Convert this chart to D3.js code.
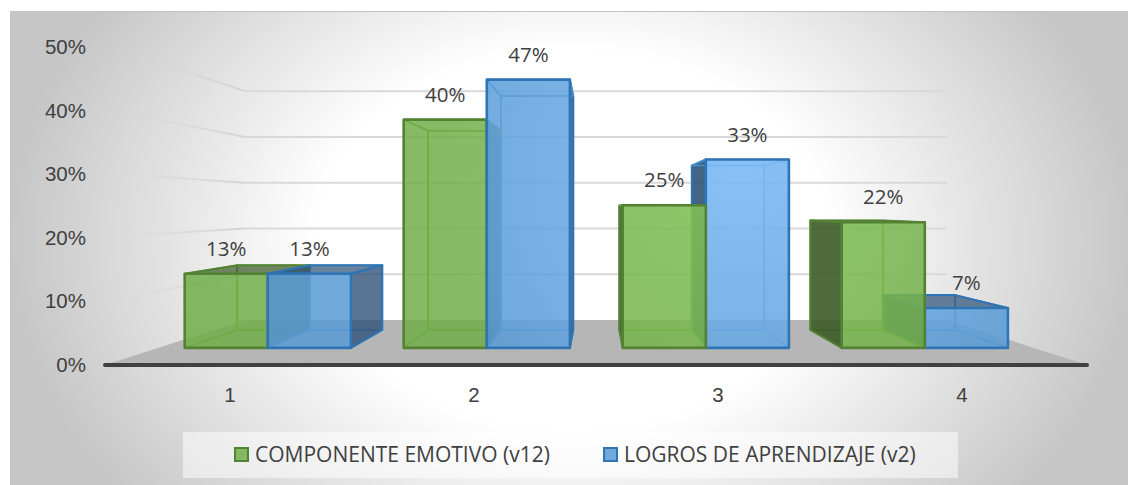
<!DOCTYPE html>
<meta charset="utf-8">
<style type="text/css">
body {
  margin: 0;
  background: #fff;
  font-family: "Open Sans", sans-serif;
}

svg {
  display: block;
}

.axis text,
.bar-label,
.legend text {
  fill: #404040;
}

.axis text,
.bar-label {
  font-size: 20.5px;
}

.legend text {
  font-size: 21px;
}

.axis line {
  display: none;
}

.axis path {
  display: none;
}

.grid {
  fill: none;
  stroke-width: 2px;
}
</style>
<body>
<script src="https://d3js.org/d3.v7.min.js"></script>
<script>
var categories = ["1", "2", "3", "4"];
var seriesNames = ["COMPONENTE EMOTIVO (v12)", "LOGROS DE APRENDIZAJE (v2)"];
var emotivo = [13, 40, 25, 22];
var logros = [13, 47, 33, 7];
var yTicks = [0, 10, 20, 30, 40, 50];

var width = 1128;
var height = 485;

// perspective: everything shrinks towards this point
var vp = { x: 596, y: 207 };
var depth = { floorBack: 0.715, barBack: 0.778, barFront: 0.892 };

var x = d3.scaleBand()
  .domain(categories)
  .range([105, 1087]);

// the tick labels are spaced a bit tighter than the bars
var xLabels = x.copy().range([108, 1084]);

var xSeries = d3.scaleBand()
  .domain([0, 1])
  .range([x.bandwidth() * 0.122, x.bandwidth() * 0.881]);

var y = d3.scaleLinear()
  .domain([0, 50])
  .range([365, 45]);

var yLabels = y.copy().range([365, 47]);

function project(wx, wy, s) {
  return [vp.x + (wx - vp.x) * s, vp.y + (wy - vp.y) * s];
}

function poly(points) {
  return "M" + points.map(function(p) { return p[0].toFixed(1) + "," + p[1].toFixed(1); }).join("L") + "Z";
}

var styles = [
  { front: "url(#greenFront)", stroke: "#548235", inner: "#64a53c", outer: "#3c5a28" },
  { front: "url(#blueFront)", stroke: "#2e75b6", inner: "#4a90d0", outer: "#2f5378" }
];

var svg = d3.select("body")
  .append("svg")
    .attr("width", width)
    .attr("height", height);

var defs = svg.append("defs");

var bgGrad = defs.append("radialGradient")
  .attr("id", "bg")
  .attr("gradientUnits", "userSpaceOnUse")
  .attr("cx", 0)
  .attr("cy", 0)
  .attr("r", 1)
  .attr("gradientTransform", "translate(572,240) scale(565,420)");
bgGrad.append("stop").attr("offset", 0.45).attr("stop-color", "#ffffff");
bgGrad.append("stop").attr("offset", 1).attr("stop-color", "#c6c6c6");

// bars catch more light around the third group
function frontGradient(id, stops) {
  var g = defs.append("radialGradient")
    .attr("id", id)
    .attr("gradientUnits", "userSpaceOnUse")
    .attr("cx", 740)
    .attr("cy", 170)
    .attr("r", 300);
  stops.forEach(function(s, i) {
    g.append("stop").attr("offset", i).attr("stop-color", s[0]).attr("stop-opacity", s[1]);
  });
}
frontGradient("greenFront", [["#83c25a", 0.9], ["#70ad47", 0.84]]);
frontGradient("blueFront", [["#7fbcf6", 0.92], ["#5b9bd5", 0.86]]);

var wallFade = defs.append("linearGradient")
  .attr("id", "wallFade")
  .attr("gradientUnits", "userSpaceOnUse")
  .attr("x1", x.range()[0]).attr("y1", 0)
  .attr("x2", project(x.range()[0], y(0), depth.floorBack)[0]).attr("y2", 0);
wallFade.append("stop").attr("offset", 0).attr("stop-color", "#d4d4d4").attr("stop-opacity", 0);
wallFade.append("stop").attr("offset", 1).attr("stop-color", "#d4d4d4").attr("stop-opacity", 1);

// panel
svg.append("rect")
  .attr("x", 10.5)
  .attr("y", 11.5)
  .attr("width", width)
  .attr("height", height)
  .attr("fill", "url(#bg)")
  .attr("stroke", "#c4c4c4");

// floor
svg.append("path")
  .attr("d", poly([
    project(x.range()[0], y(0), 1),
    project(x.range()[1], y(0), 1),
    project(x.range()[1], y(0), depth.floorBack),
    project(x.range()[0], y(0), depth.floorBack)
  ]))
  .attr("fill", "#b6b6b6");

// gridlines, fading out along the left wall
svg.selectAll("path.grid.wall")
  .data(yTicks.slice(1))
  .enter().append("path")
    .attr("class", "grid wall")
    .style("stroke", "url(#wallFade)")
    .attr("d", function(d) {
      var a = project(x.range()[0], y(d), 1);
      var b = project(x.range()[0], y(d), depth.floorBack);
      return "M" + a + "L" + b;
    });

svg.selectAll("path.grid.back")
  .data(yTicks.slice(1))
  .enter().append("path")
    .attr("class", "grid back")
    .style("stroke", "#d9d9d9")
    .attr("d", function(d) {
      var b = project(x.range()[0], y(d), depth.floorBack);
      var c = project(x.range()[1], y(d), depth.floorBack);
      return "M" + b + "L" + c;
    });

var bars = [];
categories.forEach(function(c, i) {
  [emotivo, logros].forEach(function(values, k) {
    var x0 = x(c) + xSeries(k);
    bars.push({ cat: c, k: k, value: values[i], x0: x0, x1: x0 + xSeries.bandwidth() });
  });
});

// the bar furthest from the vanishing point goes down first
var order = bars.slice().sort(function(a, b) {
  return Math.abs((b.x0 + b.x1) / 2 - vp.x) - Math.abs((a.x0 + a.x1) / 2 - vp.x);
});

var fr = depth.barFront, bk = depth.barBack;

function barFaces(d) {
  var st = styles[d.k];
  var top = y(d.value), base = y(0);
  var faces = [];
  function face(pts, fill, opacity, stroke, sw) {
    faces.push({ d: poly(pts), fill: fill, opacity: opacity, stroke: stroke, sw: sw });
  }
  // back wall and floor of the box, seen from the inside
  face([project(d.x0, base, bk), project(d.x1, base, bk), project(d.x1, top, bk), project(d.x0, top, bk)], "none", 1, st.inner, 1.5);
  face([project(d.x0, base, fr), project(d.x1, base, fr), project(d.x1, base, bk), project(d.x0, base, bk)], "none", 1, st.inner, 1.5);
  var left = [project(d.x0, base, fr), project(d.x0, top, fr), project(d.x0, top, bk), project(d.x0, base, bk)];
  var right = [project(d.x1, base, fr), project(d.x1, top, fr), project(d.x1, top, bk), project(d.x1, base, bk)];
  var lid = [project(d.x0, top, fr), project(d.x1, top, fr), project(d.x1, top, bk), project(d.x0, top, bk)];
  if (d.x0 > vp.x) face(left, st.outer, 0.9, st.stroke, 2);
  else face(left, "none", 1, st.inner, 1.5);
  if (d.x1 < vp.x) face(right, st.outer, 0.8, st.stroke, 2);
  else face(right, "none", 1, st.inner, 1.5);
  if (top > vp.y) face(lid, st.outer, 0.72, st.stroke, 2);
  else face(lid, "none", 1, st.inner, 1.5);
  face([project(d.x0, base, fr), project(d.x1, base, fr), project(d.x1, top, fr), project(d.x0, top, fr)], st.front, 1, st.stroke, 2.6);
  return faces;
}

var group = svg.selectAll("g.bar")
  .data(order)
  .enter().append("g")
    .attr("class", "bar");

group.selectAll("path")
  .data(barFaces)
  .enter().append("path")
    .attr("d", function(d) { return d.d; })
    .style("fill", function(d) { return d.fill; })
    .style("fill-opacity", function(d) { return d.opacity; })
    .style("stroke", function(d) { return d.stroke; })
    .style("stroke-width", function(d) { return d.sw; })
    .style("stroke-linejoin", "round");

// axes
svg.append("g")
  .attr("class", "y axis")
  .attr("transform", "translate(105,0)")
  .call(d3.axisLeft(yLabels)
    .tickValues(yTicks)
    .tickSize(0)
    .tickPadding(19)
    .tickFormat(function(d) { return d + "%"; }));

svg.append("g")
  .attr("class", "x axis")
  .attr("transform", "translate(0,365)")
  .call(d3.axisBottom(xLabels).tickSize(0).tickPadding(22));

svg.append("line")
  .attr("x1", x.range()[0])
  .attr("x2", x.range()[1])
  .attr("y1", y(0))
  .attr("y2", y(0))
  .style("stroke", "#404040")
  .style("stroke-width", 4)
  .style("stroke-linecap", "round");

// data labels sit a fixed distance over the front top edge
svg.selectAll("text.bar-label")
  .data(bars)
  .enter().append("text")
    .attr("class", "bar-label")
    .attr("text-anchor", "middle")
    .attr("x", function(d) { return project((d.x0 + d.x1) / 2, y(d.value), fr)[0]; })
    .attr("y", function(d) { return project((d.x0 + d.x1) / 2, y(d.value), fr)[1] - 18; })
    .text(function(d) { return d.value + "%"; });

// legend
var legend = svg.append("g").attr("class", "legend");

legend.append("rect")
  .attr("x", 183)
  .attr("y", 432)
  .attr("width", 775)
  .attr("height", 46)
  .attr("fill", "#fff")
  .attr("fill-opacity", 0.5);

var legendX = [235, 604];

var item = legend.selectAll("g.item")
  .data(seriesNames)
  .enter().append("g")
    .attr("class", "item")
    .attr("transform", function(d, i) { return "translate(" + legendX[i] + ",448)"; });

item.append("rect")
  .attr("width", 13)
  .attr("height", 13)
  .style("fill", function(d, i) { return styles[i].front; })
  .style("stroke", function(d, i) { return styles[i].stroke; })
  .style("stroke-width", 2);

item.append("text")
  .attr("x", 20)
  .attr("y", 14)
  .text(function(d) { return d; });
</script>
</body>
